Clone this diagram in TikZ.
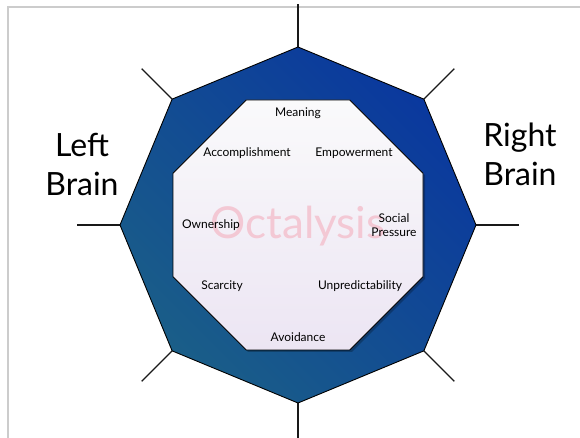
\documentclass[tikz,border=0pt]{standalone}
\usepackage{fontspec}
\setmainfont{Lato}
\usetikzlibrary{calc}

\definecolor{rimblue}{HTML}{0A389E}
\definecolor{rimteal}{HTML}{1A5E88}
\definecolor{coretop}{HTML}{FAFAFB}
\definecolor{corebot}{HTML}{ECE5F3}
\definecolor{mark}{HTML}{F3C8D4}
\definecolor{frame}{HTML}{CCCCCC}

\begin{document}
\begin{tikzpicture}[x=1pt,y=1pt]

\tikzstyle{every node}=[font=\fontsize{12}{14}\selectfont, text=black]
\tikzstyle{drive}=[align=center, inner sep=1pt]
\tikzstyle{side}=[align=center, font=\fontsize{32}{39}\selectfont, text=black]
\tikzstyle{spoke}=[line width=1.4pt, black!90]

\clip (-298,-213) rectangle (282,225);
\fill[white] (-298,-213) rectangle (282,225);

% frame of the slide
\draw[frame, line width=1.6pt] (-290,-213) -- (-290,218) -- (282,218);

% corners of the two octagons
\foreach \i in {1,...,8} {
	\coordinate (o\i) at ({90-45*(\i-1)}:178);
	\coordinate (s\i) at ({90-45*(\i-1)}:221);
	\coordinate (c\i) at ({112.5-45*(\i-1)}:135.3);
}

% spokes
\foreach \i in {1,...,8}
	\draw[spoke] (o\i) -- (s\i);

% outer ring
\shade[left color=rimteal, right color=rimblue, shading angle=135]
	(o1) -- (o2) -- (o3) -- (o4) -- (o5) -- (o6) -- (o7) -- (o8) -- cycle;
\draw[black, line width=0.9pt, line join=round]
	(o1) -- (o2) -- (o3) -- (o4) -- (o5) -- (o6) -- (o7) -- (o8) -- cycle;

% inner core
\fill[black, opacity=0.25]
	($(c1)+(2,-2)$) -- ($(c2)+(2,-2)$) -- ($(c3)+(2,-2)$) -- ($(c4)+(2,-2)$)
	-- ($(c5)+(2,-2)$) -- ($(c6)+(2,-2)$) -- ($(c7)+(2,-2)$) -- ($(c8)+(2,-2)$) -- cycle;
\shade[top color=coretop, bottom color=corebot, draw=black, line width=0.9pt, line join=round]
	(c1) -- (c2) -- (c3) -- (c4) -- (c5) -- (c6) -- (c7) -- (c8) -- cycle;

\node (mark) at (0,-1) [font=\fontsize{44}{44}\selectfont, text=mark] {Octalysis};

\node (meaning) at (0,112) [drive] {Meaning};
\node (accomplishment) at (-51,72) [drive] {Accomplishment};
\node (empowerment) at (56,72) [drive] {Empowerment};
\node (ownership) at (-87,0) [drive] {Ownership};
\node (social) at (96,0) [drive] {Social\\Pressure};
\node (scarcity) at (-76,-61) [drive] {Scarcity};
\node (unpredictability) at (62,-61) [drive] {Unpredictability};
\node (avoidance) at (0,-112) [drive] {Avoidance};

\node (left) at (-216,61) [side] {Left\\Brain};
\node (right) at (222,71) [side] {Right\\Brain};

\end{tikzpicture}
\end{document}
